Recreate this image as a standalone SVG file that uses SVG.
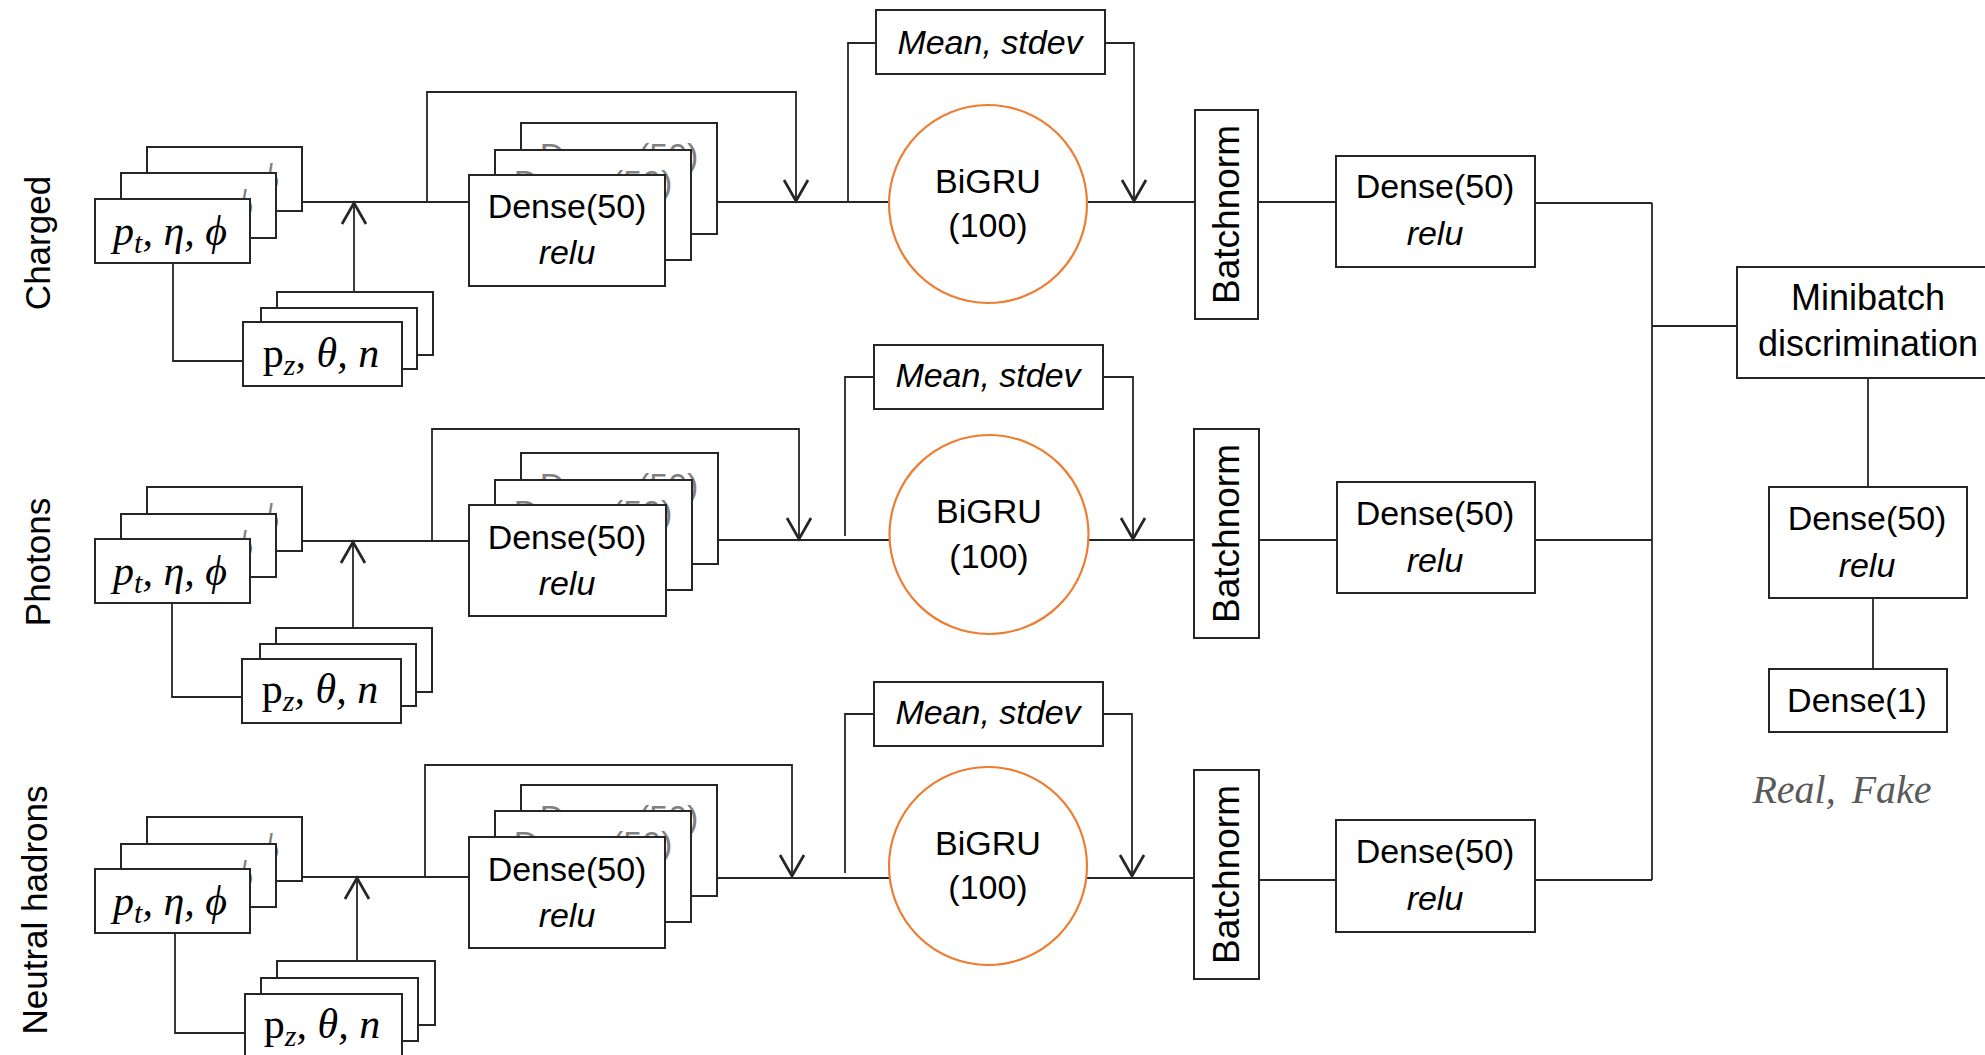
<svg xmlns="http://www.w3.org/2000/svg" width="1985" height="1055" viewBox="0 0 1985 1055">
  <defs>
    <marker id="ah" markerUnits="userSpaceOnUse" markerWidth="30" markerHeight="30" viewBox="-16 -10 18 20" refX="0" refY="0" orient="auto" overflow="visible">
      <path d="M-14,-8 L0,0 L-14,8" fill="none" stroke="#262626" stroke-width="1.8"/>
    </marker>
  </defs>
  <style>
    .box { fill: #ffffff; stroke: #262626; stroke-width: 2; }
    .rnn { fill: #ffffff; stroke: #ED7D31; stroke-width: 2.2; }
    .wire { fill: none; stroke: #262626; stroke-width: 1.8; }
    .arr { marker-end: url(#ah); }
    text { font-family: "Liberation Sans", Arial, sans-serif; fill: #000000; text-anchor: middle; }
    .t { font-size: 34px; }
    .i { font-size: 34px; font-style: italic; }
    .mb { font-size: 36px; }
    .side { font-size: 35px; }
    .bn { font-size: 37px; }
    .ghost { fill: #808080; }
    .m { font-family: "Liberation Serif", "DejaVu Serif", serif; font-size: 42px; font-style: italic; }
    .up { font-style: normal; }
    .sub { font-size: 30px; }
    .out { font-family: "Liberation Serif", "DejaVu Serif", serif; font-size: 40px; font-style: italic; fill: #5a5a5a; }
  </style>

  <!-- connectors -->
  <g id="connectors">
    <!-- charged branch -->
    <path class="wire" d="M302,202 H469"/>
    <path class="wire arr" d="M354,292 V203"/>
    <path class="wire" d="M173,263 V361 H243"/>
    <path class="wire arr" d="M427,202 V92 H796 V201"/>
    <path class="wire" d="M717,202 H889"/>
    <path class="wire" d="M848,202 V43 H876"/>
    <path class="wire arr" d="M1105,43 H1134 V201"/>
    <path class="wire" d="M1088,202 H1195"/>
    <path class="wire" d="M1258,202 H1336"/>
    <path class="wire" d="M1535,203 H1652"/>
    <!-- photon branch -->
    <path class="wire" d="M302,541 H469"/>
    <path class="wire arr" d="M353,628 V542"/>
    <path class="wire" d="M172,603 V697 H242"/>
    <path class="wire arr" d="M432,541 V429 H799 V539"/>
    <path class="wire" d="M718,540 H889"/>
    <path class="wire" d="M845,536 V377 H874"/>
    <path class="wire arr" d="M1103,377 H1133 V539"/>
    <path class="wire" d="M1089,540 H1194"/>
    <path class="wire" d="M1259,540 H1337"/>
    <path class="wire" d="M1535,540 H1652"/>
    <!-- neutral hadron branch -->
    <path class="wire" d="M302,877 H469"/>
    <path class="wire arr" d="M357,961 V878"/>
    <path class="wire" d="M175,933 V1033 H245"/>
    <path class="wire arr" d="M425,877 V765 H792 V876"/>
    <path class="wire" d="M717,878 H889"/>
    <path class="wire" d="M845,873 V714 H874"/>
    <path class="wire arr" d="M1103,714 H1132 V876"/>
    <path class="wire" d="M1087,878 H1194"/>
    <path class="wire" d="M1259,880 H1336"/>
    <path class="wire" d="M1535,880 H1652"/>
    <!-- merge and head -->
    <path class="wire" d="M1652,203 V880"/>
    <path class="wire" d="M1652,326 H1737"/>
    <path class="wire" d="M1868,378 V487"/>
    <path class="wire" d="M1873,598 V669"/>
  </g>

  <!-- branch labels -->
  <g id="label-charged"><text class="side" transform="translate(50,243) rotate(-90)">Charged</text></g>
  <g id="label-photons"><text class="side" transform="translate(50,562) rotate(-90)">Photons</text></g>
  <g id="label-neutral"><text class="side" transform="translate(47,910) rotate(-90)">Neutral hadrons</text></g>

  <!-- ===== charged branch ===== -->
  <g id="pt-charged">
    <rect class="box" x="147" y="147" width="155" height="64"/>
    <text class="m ghost" x="222" y="193">p<tspan class="sub" dy="8">t</tspan><tspan dy="-8">, η, ϕ</tspan></text>
    <rect class="box" x="121" y="173" width="155" height="65"/>
    <text class="m ghost" x="196" y="219">p<tspan class="sub" dy="8">t</tspan><tspan dy="-8">, η, ϕ</tspan></text>
    <rect class="box" x="95" y="199" width="155" height="64"/>
    <text class="m" x="170" y="245">p<tspan class="sub" dy="8">t</tspan><tspan dy="-8">, η, ϕ</tspan></text>
  </g>
  <g id="pz-charged">
    <rect class="box" x="277" y="292" width="156" height="63"/>
    <rect class="box" x="261" y="308" width="156" height="61"/>
    <rect class="box" x="243" y="322" width="159" height="64"/>
    <text class="m" x="321" y="367"><tspan class="up">p</tspan><tspan class="sub" dy="8">z</tspan><tspan dy="-8">, θ, n</tspan></text>
  </g>
  <g id="embed-charged">
    <rect class="box" x="521" y="123" width="196" height="111"/>
    <text class="t ghost" x="619" y="167">Dense(50)</text>
    <rect class="box" x="495" y="150" width="196" height="110"/>
    <text class="t ghost" x="593" y="194">Dense(50)</text>
    <rect class="box" x="469" y="175" width="196" height="111"/>
    <text class="t" x="567" y="218">Dense(50)</text>
    <text class="i" x="567" y="264">relu</text>
  </g>
  <g id="stats-charged">
    <rect class="box" x="876" y="10" width="229" height="64"/>
    <text class="i" x="990" y="54">Mean, stdev</text>
  </g>
  <g id="bigru-charged">
    <circle class="rnn" cx="988" cy="204" r="99"/>
    <text class="t" x="988" y="193">BiGRU</text>
    <text class="t" x="988" y="237">(100)</text>
  </g>
  <g id="bn-charged">
    <rect class="box" x="1195" y="110" width="63" height="209"/>
    <text class="bn" transform="translate(1239,214.5) rotate(-90)">Batchnorm</text>
  </g>
  <g id="dense-charged">
    <rect class="box" x="1336" y="156" width="199" height="111"/>
    <text class="t" x="1435" y="198">Dense(50)</text>
    <text class="i" x="1435" y="245">relu</text>
  </g>

  <!-- ===== photon branch ===== -->
  <g id="pt-photons">
    <rect class="box" x="147" y="487" width="155" height="64"/>
    <text class="m ghost" x="222" y="533">p<tspan class="sub" dy="8">t</tspan><tspan dy="-8">, η, ϕ</tspan></text>
    <rect class="box" x="121" y="514" width="155" height="63"/>
    <text class="m ghost" x="196" y="560">p<tspan class="sub" dy="8">t</tspan><tspan dy="-8">, η, ϕ</tspan></text>
    <rect class="box" x="95" y="539" width="155" height="64"/>
    <text class="m" x="170" y="585">p<tspan class="sub" dy="8">t</tspan><tspan dy="-8">, η, ϕ</tspan></text>
  </g>
  <g id="pz-photons">
    <rect class="box" x="276" y="628" width="156" height="64"/>
    <rect class="box" x="260" y="644" width="156" height="62"/>
    <rect class="box" x="242" y="659" width="159" height="64"/>
    <text class="m" x="320" y="703"><tspan class="up">p</tspan><tspan class="sub" dy="8">z</tspan><tspan dy="-8">, θ, n</tspan></text>
  </g>
  <g id="embed-photons">
    <rect class="box" x="521" y="453" width="197" height="111"/>
    <text class="t ghost" x="619" y="497">Dense(50)</text>
    <rect class="box" x="495" y="480" width="197" height="110"/>
    <text class="t ghost" x="593" y="524">Dense(50)</text>
    <rect class="box" x="469" y="505" width="197" height="111"/>
    <text class="t" x="567" y="549">Dense(50)</text>
    <text class="i" x="567" y="595">relu</text>
  </g>
  <g id="stats-photons">
    <rect class="box" x="874" y="345" width="229" height="64"/>
    <text class="i" x="988" y="387">Mean, stdev</text>
  </g>
  <g id="bigru-photons">
    <circle class="rnn" cx="989" cy="534.5" r="99.5"/>
    <text class="t" x="989" y="523">BiGRU</text>
    <text class="t" x="989" y="568">(100)</text>
  </g>
  <g id="bn-photons">
    <rect class="box" x="1194" y="429" width="65" height="209"/>
    <text class="bn" transform="translate(1239,533.5) rotate(-90)">Batchnorm</text>
  </g>
  <g id="dense-photons">
    <rect class="box" x="1337" y="482" width="198" height="111"/>
    <text class="t" x="1435" y="525">Dense(50)</text>
    <text class="i" x="1435" y="572">relu</text>
  </g>

  <!-- ===== neutral hadron branch ===== -->
  <g id="pt-neutral">
    <rect class="box" x="147" y="817" width="155" height="64"/>
    <text class="m ghost" x="222" y="863">p<tspan class="sub" dy="8">t</tspan><tspan dy="-8">, η, ϕ</tspan></text>
    <rect class="box" x="121" y="844" width="155" height="63"/>
    <text class="m ghost" x="196" y="890">p<tspan class="sub" dy="8">t</tspan><tspan dy="-8">, η, ϕ</tspan></text>
    <rect class="box" x="95" y="869" width="155" height="64"/>
    <text class="m" x="170" y="915">p<tspan class="sub" dy="8">t</tspan><tspan dy="-8">, η, ϕ</tspan></text>
  </g>
  <g id="pz-neutral">
    <rect class="box" x="277" y="961" width="158" height="64"/>
    <rect class="box" x="261" y="978" width="157" height="63"/>
    <rect class="box" x="245" y="994" width="157" height="70"/>
    <text class="m" x="322" y="1038"><tspan class="up">p</tspan><tspan class="sub" dy="8">z</tspan><tspan dy="-8">, θ, n</tspan></text>
  </g>
  <g id="embed-neutral">
    <rect class="box" x="521" y="785" width="196" height="111"/>
    <text class="t ghost" x="619" y="829">Dense(50)</text>
    <rect class="box" x="495" y="811" width="196" height="111"/>
    <text class="t ghost" x="593" y="855">Dense(50)</text>
    <rect class="box" x="469" y="837" width="196" height="111"/>
    <text class="t" x="567" y="881">Dense(50)</text>
    <text class="i" x="567" y="927">relu</text>
  </g>
  <g id="stats-neutral">
    <rect class="box" x="874" y="682" width="229" height="64"/>
    <text class="i" x="988" y="724">Mean, stdev</text>
  </g>
  <g id="bigru-neutral">
    <circle class="rnn" cx="988" cy="866" r="99"/>
    <text class="t" x="988" y="855">BiGRU</text>
    <text class="t" x="988" y="899">(100)</text>
  </g>
  <g id="bn-neutral">
    <rect class="box" x="1194" y="770" width="65" height="209"/>
    <text class="bn" transform="translate(1239,874.5) rotate(-90)">Batchnorm</text>
  </g>
  <g id="dense-neutral">
    <rect class="box" x="1336" y="820" width="199" height="112"/>
    <text class="t" x="1435" y="863">Dense(50)</text>
    <text class="i" x="1435" y="910">relu</text>
  </g>

  <!-- ===== discriminator head ===== -->
  <g id="minibatch">
    <rect class="box" x="1737" y="267" width="262" height="111"/>
    <text class="mb" x="1868" y="310">Minibatch</text>
    <text class="mb" x="1868" y="356">discrimination</text>
  </g>
  <g id="head-dense">
    <rect class="box" x="1769" y="487" width="198" height="111"/>
    <text class="t" x="1867" y="530">Dense(50)</text>
    <text class="i" x="1867" y="577">relu</text>
  </g>
  <g id="head-out">
    <rect class="box" x="1769" y="669" width="178" height="63"/>
    <text class="t" x="1857" y="712">Dense(1)</text>
  </g>
  <g id="output-label">
    <text class="out" x="1842" y="803" word-spacing="6">Real, Fake</text>
  </g>
</svg>
